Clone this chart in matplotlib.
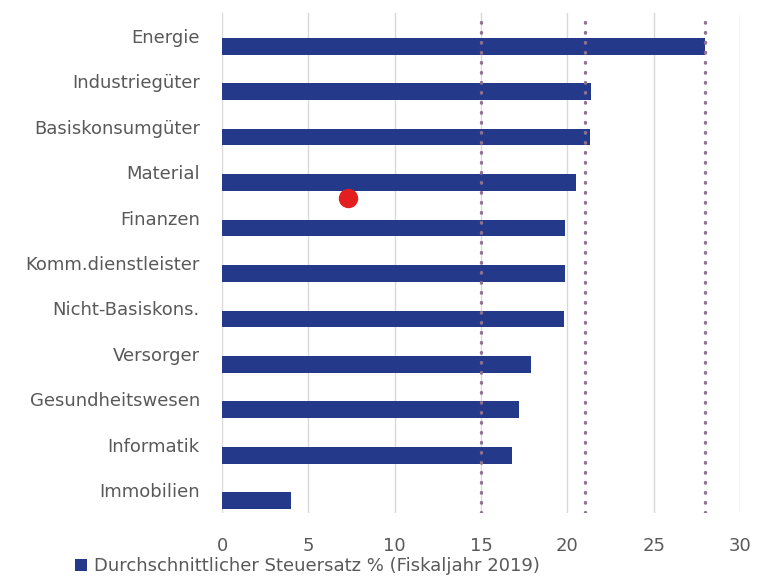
import numpy as np
import matplotlib
matplotlib.use("Agg")
import matplotlib.pyplot as plt

# Data
sectors = ["Energie", "Industriegüter", "Basiskonsumgüter", "Material", "Finanzen",
           "Komm.dienstleister", "Nicht-Basiskons.", "Versorger", "Gesundheitswesen",
           "Informatik", "Immobilien"]
tax_rate = [28.0, 21.4, 21.3, 20.5, 19.85, 19.85, 19.8, 17.9, 17.2, 16.8, 4.0]
ref_lines = [15, 21, 28]
dot_x = [7.3]
dot_y = [3.57]
legend_label = "Durchschnittlicher Steuersatz % (Fiskaljahr 2019)"

plt.rcParams["font.family"] = ["DejaVu Sans"]
text_color = "#595959"

fig = plt.figure(figsize=(7.57, 5.80), dpi=100)
ax = fig.add_axes([0.2933, 0.1155, 0.6842, 0.8621])

y = np.arange(len(sectors))
bars = ax.barh(y + 0.23, tax_rate, height=0.37, color="#24398a", zorder=2,
               label=legend_label)

vl = ax.vlines(ref_lines, -0.3, 10.5, colors="#8e7390", linewidth=2.4,
               linestyles=(0, (0.2, 2.8)), zorder=3)
vl.set_capstyle("round")
ax.plot(dot_x, dot_y, "o", color="#e31e1e", markersize=13, zorder=4)

ax.set_xlim(0, 30)
ax.set_ylim(10.5, -0.5)
ax.set_xticks(np.arange(0, 31, 5))
ax.set_yticks(y)
ax.set_yticklabels(sectors)
ax.grid(axis="x", color="#d9d9d9", linewidth=1, zorder=0)
ax.tick_params(axis="both", length=0, labelsize=13, labelcolor=text_color)
ax.tick_params(axis="x", pad=17)
ax.tick_params(axis="y", pad=16)
for s in ax.spines.values():
    s.set_visible(False)

fig.legend(handles=[bars], labels=[legend_label], loc="lower left",
           bbox_to_anchor=(0.077, -0.02), frameon=False, fontsize=13,
           labelcolor=text_color, handlelength=0.7, handleheight=0.7,
           handletextpad=0.4)

fig.savefig("out.png", dpi=100)
